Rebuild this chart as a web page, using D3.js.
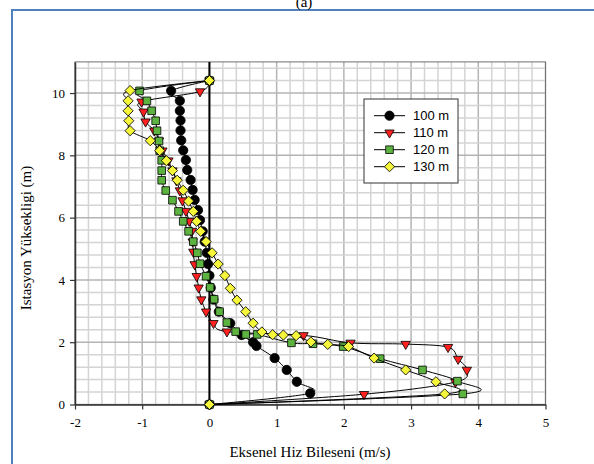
<!DOCTYPE html>
<html>
<head>
<meta charset="utf-8">
<script src="https://cdn.jsdelivr.net/npm/d3@7"></script>
<style>
body { margin: 0; background: #fff; }
svg { display: block; }
</style>
</head>
<body>
<svg id="chart" width="594" height="464"></svg>
<script>
// eksenel hiz (m/s) ve yukseklik (m) - her seri ayri
var seriesNames = ["100 m", "110 m", "120 m", "130 m"];

var u100 = [0,-0.57,-0.44,-0.44,-0.43,-0.43,-0.42,-0.39,-0.35,-0.33,-0.28,-0.25,-0.22,-0.17,-0.14,-0.10,-0.07,-0.04,-0.02,0.00,0.02,0.06,0.14,0.31,0.48,0.65,0.70,0.97,1.15,1.30,1.50,0];
var h100 = [10.4,10.07,9.75,9.43,9.12,8.80,8.48,8.16,7.85,7.53,7.21,6.89,6.57,6.24,5.92,5.56,5.23,4.87,4.51,4.14,3.75,3.37,2.98,2.61,2.23,2.00,1.88,1.49,1.11,0.73,0.36,0];

var u110 = [0,-0.14,-1.01,-0.98,-0.95,-0.82,-0.75,-0.70,-0.61,-0.55,-0.49,-0.44,-0.40,-0.35,-0.30,-0.26,-0.25,-0.24,-0.22,-0.19,-0.16,-0.12,-0.05,0.06,0.26,1.40,2.10,2.92,3.55,3.70,3.83,3.66,2.30,0];
var h110 = [10.4,10.05,9.72,9.40,9.08,8.79,8.47,8.15,7.83,7.51,7.19,6.87,6.55,6.21,5.89,5.57,5.23,4.90,4.50,4.12,3.75,3.37,2.98,2.61,2.34,2.22,1.98,1.94,1.84,1.46,1.11,0.72,0.33,0];

var u120 = [0,-1.04,-0.93,-0.86,-0.80,-0.78,-0.75,-0.74,-0.71,-0.71,-0.71,-0.65,-0.55,-0.46,-0.39,-0.31,-0.24,-0.18,-0.14,-0.05,0.01,0.07,0.15,0.26,0.39,0.54,0.71,1.22,1.54,1.99,2.54,3.17,3.69,3.77,0];
var h120 = [10.4,10.07,9.75,9.43,9.11,8.79,8.46,8.15,7.84,7.51,7.20,6.87,6.56,6.20,5.88,5.56,5.23,4.87,4.52,4.12,3.76,3.38,2.98,2.63,2.34,2.25,2.25,1.98,1.95,1.86,1.47,1.11,0.75,0.34,0];

var u130 = [0,-1.18,-1.21,-1.21,-1.20,-1.18,-0.88,-0.74,-0.64,-0.55,-0.48,-0.39,-0.31,-0.24,-0.19,-0.13,-0.05,0.04,0.13,0.23,0.31,0.41,0.54,0.65,0.78,0.94,1.10,1.29,1.51,1.76,2.07,2.45,2.92,3.37,3.50,0];
var h130 = [10.4,10.08,9.75,9.43,9.11,8.79,8.47,8.15,7.83,7.51,7.20,6.88,6.53,6.20,5.88,5.56,5.23,4.87,4.51,4.14,3.73,3.35,2.98,2.61,2.33,2.24,2.23,2.21,2.01,1.93,1.86,1.49,1.11,0.73,0.34,0];

var xTicks = [-2,-1,0,1,2,3,4,5];
var yTicks = [0,2,4,6,8,10];

var svg = d3.select("#chart");

var x = d3.scaleLinear().domain([-2, 5]).range([75, 545.5]);
var y = d3.scaleLinear().domain([0, 11]).range([404.5, 61.9]);

// cerceve
svg.append("rect").attr("x", 12).attr("y", 10).attr("width", 600).attr("height", 470)
  .attr("fill", "none").attr("stroke", "#4f81bd").attr("stroke-width", 2);

svg.append("text").attr("x", 304).attr("y", 7)
  .attr("text-anchor", "middle")
  .style("font-family", "Liberation Serif, Times New Roman, serif").style("font-size", "15px")
  .text("(a)");

// grid
var g = svg.append("g");
g.selectAll(".vg").data(d3.range(-2, 5.001, 0.2)).enter().append("line")
  .attr("x1", function(d) { return x(d); }).attr("x2", function(d) { return x(d); })
  .attr("y1", y(0)).attr("y2", y(11))
  .attr("stroke", function(d) { return Math.abs(d - Math.round(d)) < 0.01 ? "#b4b4b4" : "#d4d4d4"; })
  .attr("stroke-width", 1.5);
g.selectAll(".hg").data(d3.range(0, 11.001, 0.4)).enter().append("line")
  .attr("x1", x(-2)).attr("x2", x(5))
  .attr("y1", function(d) { return y(d); }).attr("y2", function(d) { return y(d); })
  .attr("stroke", function(d) { return Math.abs(d / 2 - Math.round(d / 2)) < 0.01 ? "#b4b4b4" : "#d4d4d4"; })
  .attr("stroke-width", 1.5);

svg.append("rect").attr("x", x(-2)).attr("y", y(11))
  .attr("width", x(5) - x(-2)).attr("height", y(0) - y(11))
  .attr("fill", "none").attr("stroke", "#707070").attr("stroke-width", 1);

// eksenler
var xAxis = svg.append("g").attr("transform", "translate(0," + y(0) + ")")
  .call(d3.axisBottom(x).tickValues(xTicks).tickSize(5).tickSizeOuter(0).tickFormat(function(d) { return String(d); }));
var yAxis = svg.append("g").attr("transform", "translate(" + x(-2) + ",0)")
  .call(d3.axisLeft(y).tickValues(yTicks).tickSize(5).tickSizeOuter(0).tickFormat(function(d) { return String(d); }));
[xAxis, yAxis].forEach(function(a) {
  a.select(".domain").attr("stroke", "#333").attr("stroke-width", 1.5);
  a.selectAll(".tick line").attr("stroke", "#333").attr("stroke-width", 1.2);
  a.selectAll("text").style("font-family", "Liberation Serif, Times New Roman, serif").style("font-size", "13px").attr("fill", "#000");
});
xAxis.selectAll("text").attr("dy", "1.1em");
yAxis.selectAll("text").attr("x", -10);

// sifir cizgisi
svg.append("line").attr("x1", x(0)).attr("x2", x(0)).attr("y1", y(0)).attr("y2", y(11))
  .attr("stroke", "#000").attr("stroke-width", 2);

svg.append("text").attr("x", 310).attr("y", 457).attr("text-anchor", "middle")
  .style("font-family", "Liberation Serif, Times New Roman, serif").style("font-size", "15px")
  .text("Eksenel Hiz Bileseni (m/s)");
svg.append("text").attr("transform", "translate(31,238) rotate(-90)").attr("text-anchor", "middle")
  .style("font-family", "Liberation Serif, Times New Roman, serif").style("font-size", "15px")
  .text("Istasyon Yüksekligi (m)");

// seriler
var series = [
  {u: u100, h: h100, fill: "#000000", shape: d3.symbolCircle, size: 68, rot: 0},
  {u: u110, h: h110, fill: "#ff2020", shape: d3.symbolTriangle, size: 38, rot: 180},
  {u: u120, h: h120, fill: "#5cb340", shape: d3.symbolSquare, size: 58, rot: 0},
  {u: u130, h: h130, fill: "#f5f53a", shape: d3.symbolSquare, size: 52, rot: 45}
];

var line = d3.line().curve(d3.curveCatmullRom.alpha(0))
  .x(function(d) { return x(d[0]); }).y(function(d) { return y(d[1]); });

series.forEach(function(s) {
  var pts = s.u.map(function(v, i) { return [v, s.h[i]]; });
  svg.append("path").datum(pts).attr("d", line)
    .attr("fill", "none").attr("stroke", "#000").attr("stroke-width", 1);
  svg.append("g").selectAll("path").data(pts).enter().append("path")
    .attr("d", d3.symbol().type(s.shape).size(s.size))
    .attr("transform", function(d) { return "translate(" + x(d[0]) + "," + y(d[1]) + ") rotate(" + s.rot + ")"; })
    .attr("fill", s.fill).attr("stroke", "#000").attr("stroke-width", 0.8);
});

// lejant
var lg = svg.append("g");
lg.append("rect").attr("x", 364).attr("y", 99).attr("width", 94).attr("height", 84)
  .attr("fill", "#fff").attr("stroke", "#333").attr("stroke-width", 1);
series.forEach(function(s, i) {
  var ly = 115.7 + i * 17;
  lg.append("line").attr("x1", 374).attr("x2", 405).attr("y1", ly).attr("y2", ly)
    .attr("stroke", "#000").attr("stroke-width", 1);
  lg.append("path").attr("d", d3.symbol().type(s.shape).size(s.size))
    .attr("transform", "translate(389.5," + ly + ") rotate(" + s.rot + ")")
    .attr("fill", s.fill).attr("stroke", "#000").attr("stroke-width", 0.8);
  lg.append("text").attr("x", 413).attr("y", ly + 4.5)
    .style("font-family", "Liberation Sans, Arial, sans-serif").style("font-size", "13px")
    .text(seriesNames[i]);
});
</script>
</body>
</html>
